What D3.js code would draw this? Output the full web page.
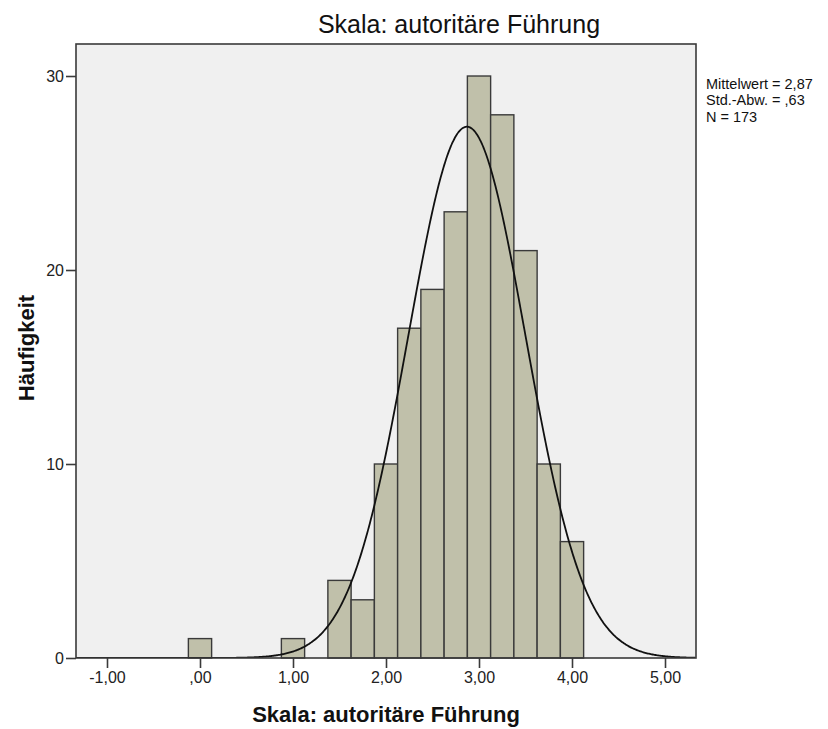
<!DOCTYPE html>
<html>
<head>
<meta charset="utf-8">
<script src="https://cdn.jsdelivr.net/npm/d3@7"></script>
<style>
  html, body { margin: 0; padding: 0; background: #ffffff; }
  svg { display: block; font-family: "Liberation Sans", Arial, sans-serif; }
</style>
</head>
<body>
<svg id="chart" width="828" height="729"></svg>
<script>
// Histogram bins (lower edge) and frequency counts
const binStarts = [-0.125, 0.875, 1.375, 1.625, 1.875, 2.125, 2.375, 2.625, 2.875, 3.125, 3.375, 3.625, 3.875];
const binWidth = 0.25;
const counts = [1, 1, 4, 3, 10, 17, 19, 23, 30, 28, 21, 10, 6];

const xTicks = [-1, 0, 1, 2, 3, 4, 5];
const xTickLabels = ["-1,00", ",00", "1,00", "2,00", "3,00", "4,00", "5,00"];
const yTicks = [0, 10, 20, 30];

const meanValue = 2.87;
const sdValue = 0.63;
const nValue = 173;
const statLines = ["Mittelwert = 2,87", "Std.-Abw. = ,63", "N = 173"];

const titleText = "Skala: autoritäre Führung";
const xTitle = "Skala: autoritäre Führung";
const yTitle = "Häufigkeit";

const svg = d3.select("#chart");
const plot = { left: 76, right: 696, top: 44, bottom: 658 };

const x = d3.scaleLinear().domain([-1.3333, 5.3333]).range([plot.left, plot.right]);
const y = d3.scaleLinear().domain([0, 31.65]).range([plot.bottom, plot.top]);

// plot background
svg.append("rect")
  .attr("x", plot.left).attr("y", plot.top)
  .attr("width", plot.right - plot.left).attr("height", plot.bottom - plot.top)
  .attr("fill", "#f0f0f0");

svg.append("clipPath").attr("id", "plotClip")
  .append("rect")
  .attr("x", plot.left).attr("y", plot.top)
  .attr("width", plot.right - plot.left).attr("height", plot.bottom - plot.top);

// bars
svg.append("g")
  .selectAll("rect")
  .data(binStarts.map((s, i) => ({ s, c: counts[i] })))
  .join("rect")
  .attr("x", d => x(d.s))
  .attr("y", d => y(d.c))
  .attr("width", d => x(d.s + binWidth) - x(d.s))
  .attr("height", d => y(0) - y(d.c))
  .attr("fill", "#c0c0aa")
  .attr("stroke", "#3a3a3a")
  .attr("stroke-width", 1.4);

// normal curve scaled to the histogram
const pts = d3.range(-1.3333, 5.3334, 0.01).map(v => {
  const z = (v - meanValue) / sdValue;
  return [v, nValue * binWidth / (sdValue * Math.sqrt(2 * Math.PI)) * Math.exp(-0.5 * z * z)];
});
svg.append("path")
  .datum(pts)
  .attr("clip-path", "url(#plotClip)")
  .attr("fill", "none")
  .attr("stroke", "#111111")
  .attr("stroke-width", 1.8)
  .attr("d", d3.line().x(d => x(d[0])).y(d => y(d[1])).curve(d3.curveBasis));

// frame
svg.append("rect")
  .attr("x", plot.left).attr("y", plot.top)
  .attr("width", plot.right - plot.left).attr("height", plot.bottom - plot.top)
  .attr("fill", "none")
  .attr("stroke", "#3a3a3a")
  .attr("stroke-width", 1.6);

// axes
const xAxis = d3.axisBottom(x).tickValues(xTicks)
  .tickFormat((d, i) => xTickLabels[i]).tickSize(10).tickPadding(4);
const gx = svg.append("g").attr("transform", `translate(0,${plot.bottom})`).call(xAxis);
gx.select(".domain").remove();
gx.selectAll("line").attr("stroke", "#3a3a3a").attr("stroke-width", 1.6);
gx.selectAll("text").attr("font-size", 16).attr("fill", "#222");

const yAxis = d3.axisLeft(y).tickValues(yTicks).tickSize(10).tickPadding(2);
const gy = svg.append("g").attr("transform", `translate(${plot.left},0)`).call(yAxis);
gy.select(".domain").remove();
gy.selectAll("line").attr("stroke", "#3a3a3a").attr("stroke-width", 1.6);
gy.selectAll("text").attr("font-size", 16).attr("fill", "#222");

// titles
svg.append("text")
  .attr("x", 459).attr("y", 33)
  .attr("text-anchor", "middle")
  .attr("font-size", 25).attr("fill", "#111")
  .text(titleText);

svg.append("text")
  .attr("x", 386).attr("y", 722)
  .attr("text-anchor", "middle")
  .attr("font-size", 22).attr("font-weight", "bold").attr("fill", "#111")
  .text(xTitle);

svg.append("text")
  .attr("transform", "translate(34,348) rotate(-90)")
  .attr("text-anchor", "middle")
  .attr("font-size", 22).attr("font-weight", "bold").attr("fill", "#111")
  .text(yTitle);

// summary statistics
svg.append("g")
  .selectAll("text")
  .data(statLines)
  .join("text")
  .attr("x", 706)
  .attr("y", (d, i) => 89 + i * 16.3)
  .attr("font-size", 14.5).attr("fill", "#111")
  .text(d => d);
</script>
</body>
</html>
